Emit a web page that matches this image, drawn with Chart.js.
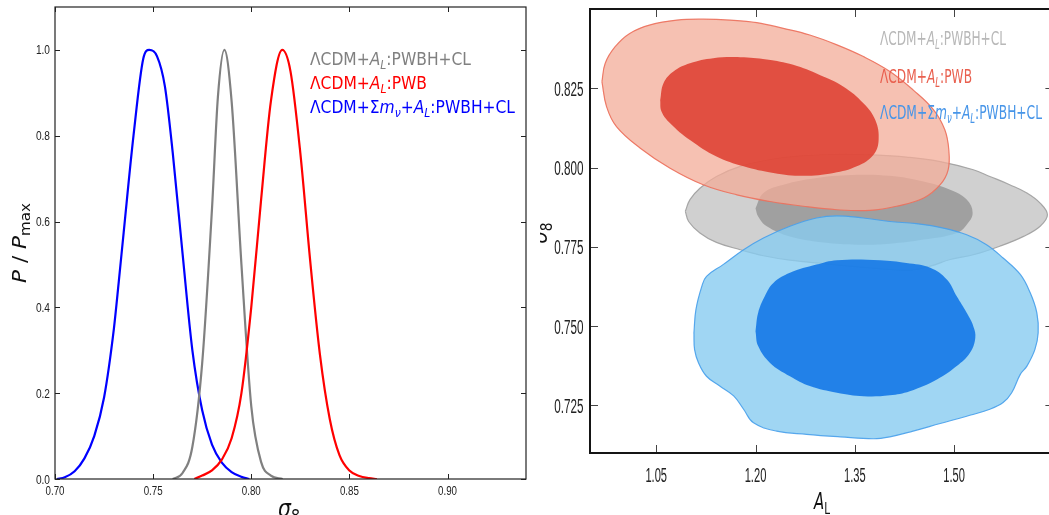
<!DOCTYPE html>
<html>
<head>
<meta charset="utf-8">
<script src="https://cdn.jsdelivr.net/npm/chart.js@4.4.0/dist/chart.umd.min.js"></script>
<style>
  html, body { margin: 0; padding: 0; background: #fff; overflow: hidden; width: 1049px; height: 515px; }
  #left { position: absolute; left: 0; top: 0; }
  #right { position: absolute; left: 540px; top: 0; }
</style>
</head>
<body>
<canvas id="left" width="540" height="515"></canvas>
<canvas id="right" width="520" height="515"></canvas>
<script>
// ---- left panel: 1D marginals P/Pmax vs sigma8 ----
const blueS8 = [0.701, 0.705, 0.710, 0.715, 0.720, 0.725, 0.730, 0.7325, 0.735, 0.740, 0.745, 0.748, 0.752, 0.756, 0.760, 0.765, 0.770, 0.775, 0.780, 0.785, 0.790, 0.795, 0.799];
const blueP = [0, 0.004, 0.018, 0.048, 0.10, 0.19, 0.35, 0.46, 0.575, 0.80, 0.98, 1.0, 0.985, 0.915, 0.76, 0.525, 0.30, 0.16, 0.08, 0.038, 0.016, 0.005, 0];
const grayS8 = [0.760, 0.765, 0.770, 0.775, 0.780, 0.783, 0.7863, 0.790, 0.795, 0.800, 0.805, 0.810, 0.816];
const grayP = [0, 0.014, 0.075, 0.27, 0.63, 0.89, 1.0, 0.88, 0.5, 0.17, 0.04, 0.008, 0];
const redS8 = [0.771, 0.775, 0.780, 0.785, 0.790, 0.795, 0.800, 0.805, 0.810, 0.8158, 0.820, 0.825, 0.830, 0.835, 0.840, 0.845, 0.850, 0.855, 0.860, 0.864];
const redP = [0, 0.008, 0.02, 0.045, 0.095, 0.2, 0.4, 0.65, 0.88, 1.0, 0.95, 0.76, 0.51, 0.29, 0.14, 0.055, 0.02, 0.007, 0.002, 0];

const s8Ticks = [0.70, 0.75, 0.80, 0.85, 0.90];
const s8TickLabels = ['0.70', '0.75', '0.80', '0.85', '0.90'];
const pTicks = [0, 0.2, 0.4, 0.6, 0.8, 1.0];
const pTickLabels = ['0.0', '0.2', '0.4', '0.6', '0.8', '1.0'];

// ---- right panel: 2D contours sigma8 vs A_L (68% inner / 95% outer) ----
const grayOutAL = [1.094, 1.101, 1.116, 1.141, 1.177, 1.227, 1.277, 1.328, 1.378, 1.428, 1.479, 1.529, 1.554, 1.584, 1.610, 1.630, 1.641, 1.630, 1.605, 1.569, 1.529, 1.494, 1.464, 1.433, 1.393, 1.353, 1.303, 1.252, 1.212, 1.177, 1.141, 1.116, 1.099];
const grayOutS8 = [0.7862, 0.7899, 0.7935, 0.7972, 0.8004, 0.8027, 0.8038, 0.8042, 0.8040, 0.8033, 0.8019, 0.7993, 0.7972, 0.7946, 0.7920, 0.7888, 0.7851, 0.7815, 0.7783, 0.7752, 0.7725, 0.7710, 0.7689, 0.7676, 0.7680, 0.7687, 0.7697, 0.7708, 0.7722, 0.7741, 0.7764, 0.7794, 0.7830];
const grayInAL = [1.200, 1.212, 1.242, 1.292, 1.353, 1.403, 1.454, 1.494, 1.519, 1.528, 1.519, 1.504, 1.454, 1.403, 1.353, 1.303, 1.252, 1.217, 1.204];
const grayInS8 = [0.7872, 0.7920, 0.7946, 0.7967, 0.7977, 0.7974, 0.7956, 0.7930, 0.7899, 0.7857, 0.7820, 0.7794, 0.7773, 0.7760, 0.7757, 0.7764, 0.7783, 0.7815, 0.7846];

const redOutAL = [0.968, 0.973, 0.988, 1.010, 1.041, 1.081, 1.121, 1.162, 1.202, 1.242, 1.282, 1.323, 1.363, 1.403, 1.438, 1.469, 1.486, 1.492, 1.491, 1.479, 1.454, 1.413, 1.373, 1.323, 1.272, 1.222, 1.172, 1.121, 1.071, 1.026, 0.990, 0.975];
const redOutS8 = [0.8271, 0.8329, 0.8381, 0.8423, 0.8450, 0.8465, 0.8468, 0.8465, 0.8457, 0.8439, 0.8418, 0.8387, 0.8350, 0.8303, 0.8245, 0.8182, 0.8119, 0.8056, 0.7993, 0.7946, 0.7904, 0.7878, 0.7865, 0.7867, 0.7878, 0.7893, 0.7914, 0.7946, 0.7998, 0.8061, 0.8129, 0.8192];
const redInAL = [1.056, 1.061, 1.076, 1.101, 1.136, 1.177, 1.217, 1.257, 1.297, 1.333, 1.363, 1.381, 1.386, 1.378, 1.353, 1.318, 1.272, 1.227, 1.182, 1.141, 1.101, 1.071, 1.058];
const redInS8 = [0.8213, 0.8266, 0.8303, 0.8329, 0.8345, 0.8348, 0.8341, 0.8324, 0.8292, 0.8255, 0.8203, 0.8150, 0.8087, 0.8040, 0.8004, 0.7983, 0.7974, 0.7983, 0.8004, 0.8035, 0.8087, 0.8140, 0.8177];

const blueOutAL = [1.107, 1.110, 1.119, 1.126, 1.151, 1.182, 1.212, 1.252, 1.292, 1.323, 1.363, 1.403, 1.443, 1.484, 1.519, 1.549, 1.574, 1.600, 1.615, 1.625, 1.627, 1.622, 1.610, 1.600, 1.587, 1.574, 1.554, 1.519, 1.479, 1.438, 1.403, 1.378, 1.328, 1.277, 1.232, 1.197, 1.182, 1.167, 1.146, 1.126, 1.114, 1.108];
const blueOutS8 = [0.7479, 0.7552, 0.7626, 0.7657, 0.7694, 0.7741, 0.7778, 0.7815, 0.7841, 0.7848, 0.7841, 0.7830, 0.7823, 0.7809, 0.7788, 0.7757, 0.7715, 0.7663, 0.7605, 0.7542, 0.7479, 0.7426, 0.7374, 0.7348, 0.7290, 0.7259, 0.7238, 0.7216, 0.7193, 0.7169, 0.7151, 0.7145, 0.7151, 0.7159, 0.7169, 0.7195, 0.7238, 0.7280, 0.7311, 0.7342, 0.7384, 0.7426];
const blueInAL = [1.200, 1.204, 1.214, 1.227, 1.252, 1.292, 1.323, 1.388, 1.428, 1.464, 1.489, 1.504, 1.519, 1.529, 1.532, 1.524, 1.504, 1.474, 1.433, 1.403, 1.363, 1.323, 1.282, 1.252, 1.222, 1.204];
const blueInS8 = [0.7484, 0.7542, 0.7594, 0.7636, 0.7668, 0.7694, 0.7708, 0.7708, 0.7699, 0.7684, 0.7647, 0.7594, 0.7542, 0.7500, 0.7463, 0.7416, 0.7374, 0.7332, 0.7295, 0.7282, 0.7279, 0.7290, 0.7311, 0.7342, 0.7384, 0.7437];

const alTicks = [1.05, 1.20, 1.35, 1.50];
const alTickLabels = ['1.05', '1.20', '1.35', '1.50'];
const s8Ticks2 = [0.725, 0.750, 0.775, 0.800, 0.825];
const s8TickLabels2 = ['0.725', '0.750', '0.775', '0.800', '0.825'];

// legend labels, split into plain / italic / subscript pieces
const labelGray = [{ t: 'ΛCDM+' }, { t: 'A', it: 1 }, { t: 'L', it: 1, sub: 1 }, { t: ':PWBH+CL' }];
const labelRed = [{ t: 'ΛCDM+' }, { t: 'A', it: 1 }, { t: 'L', it: 1, sub: 1 }, { t: ':PWB' }];
const labelBlue = [{ t: 'ΛCDM+Σ' }, { t: 'm', it: 1 }, { t: 'ν', it: 1, sub: 1 }, { t: '+' }, { t: 'A', it: 1 }, { t: 'L', it: 1, sub: 1 }, { t: ':PWBH+CL' }];

function pts(xs, ys) {
  return xs.map(function (x, i) { return { x: x, y: ys[i] }; });
}
function loop(xs, ys) {
  const p = pts(xs, ys);
  p.push({ x: xs[0], y: ys[0] });
  return p;
}

// draws text made of pieces, squeezed horizontally to a given width
function drawRich(ctx, segs, o) {
  const parts = segs.map(function (s) {
    const sz = s.sub ? o.size * 0.7 : o.size;
    const font = (s.it ? 'italic ' : '') + sz + 'px ' + o.family;
    ctx.font = font;
    return { t: s.t, font: font, w: ctx.measureText(s.t).width, dy: s.sub ? o.size * 0.22 : 0 };
  });
  const natural = parts.reduce(function (a, p) { return a + p.w; }, 0);
  const k = o.width ? o.width / natural : (o.k || 1);
  const total = natural * k;
  let start = 0;
  if (o.align === 'center') start = -total / 2;
  if (o.align === 'right') start = -total;
  ctx.save();
  ctx.translate(o.x, o.y);
  if (o.rotate) ctx.rotate(o.rotate);
  ctx.translate(start, 0);
  ctx.scale(k, 1);
  ctx.fillStyle = o.color;
  ctx.textBaseline = o.baseline || 'alphabetic';
  ctx.textAlign = 'left';
  let cx = 0;
  parts.forEach(function (p) {
    ctx.font = p.font;
    ctx.fillText(p.t, cx, p.dy);
    cx += p.w;
  });
  ctx.restore();
}

const TICKFONT = '"Liberation Sans", Arial, sans-serif';
const TEXTFONT = '"DejaVu Sans", sans-serif';

function hiddenAxis(min, max, ticks, fit) {
  return {
    type: 'linear', min: min, max: max,
    grid: { display: false }, border: { display: false }, ticks: { display: false },
    afterBuildTicks: function (s) { s.ticks = ticks.map(function (v) { return { value: v }; }); },
    afterFit: fit
  };
}

// ---------- left chart ----------
const leftDecor = {
  id: 'leftDecor',
  afterDraw: function (chart) {
    const ctx = chart.ctx, a = chart.chartArea;
    const sx = chart.scales.x, sy = chart.scales.y;
    ctx.save();
    ctx.strokeStyle = '#222';
    ctx.lineWidth = 1.2;
    ctx.strokeRect(a.left, a.top, a.right - a.left, a.bottom - a.top);
    ctx.lineWidth = 1;
    ctx.beginPath();
    sx.ticks.forEach(function (t) {
      const px = Math.round(sx.getPixelForValue(t.value)) + 0.5;
      ctx.moveTo(px, a.bottom); ctx.lineTo(px, a.bottom - 5);
      ctx.moveTo(px, a.top); ctx.lineTo(px, a.top + 5);
    });
    sy.ticks.forEach(function (t) {
      const py = Math.round(sy.getPixelForValue(t.value)) + 0.5;
      ctx.moveTo(a.left, py); ctx.lineTo(a.left + 5, py);
      ctx.moveTo(a.right, py); ctx.lineTo(a.right - 5, py);
    });
    ctx.stroke();
    ctx.restore();

    sx.ticks.forEach(function (t, i) {
      drawRich(ctx, [{ t: s8TickLabels[i] }], { x: sx.getPixelForValue(t.value), y: 495, size: 13, family: TICKFONT, color: '#222', k: 0.75, align: 'center' });
    });
    sy.ticks.forEach(function (t, i) {
      drawRich(ctx, [{ t: pTickLabels[i] }], { x: 50, y: sy.getPixelForValue(t.value) + 4.5, size: 13.5, family: TICKFONT, color: '#222', k: 0.75, align: 'right' });
    });

    drawRich(ctx, [{ t: 'P', it: 1 }, { t: ' / ' }, { t: 'P', it: 1 }, { t: 'max', sub: 1 }], { x: 26, y: 243, size: 20, family: TEXTFONT, color: '#111', width: 80, align: 'center', rotate: -Math.PI / 2 });
    drawRich(ctx, [{ t: 'σ', it: 1 }, { t: '8', sub: 1 }], { x: 289, y: 517, size: 24, family: TEXTFONT, color: '#111', k: 0.85, align: 'center' });

    drawRich(ctx, labelGray, { x: 310, y: 65, size: 18, family: TEXTFONT, color: '#808080', width: 161 });
    drawRich(ctx, labelRed, { x: 310, y: 89, size: 18, family: TEXTFONT, color: '#ff0000', width: 117 });
    drawRich(ctx, labelBlue, { x: 310, y: 113, size: 18, family: TEXTFONT, color: '#0000ff', width: 205 });
  }
};

function curve(xs, ys, color, order) {
  return {
    data: pts(xs, ys), showLine: true, borderColor: color, borderWidth: 2.2,
    pointRadius: 0, fill: false, cubicInterpolationMode: 'monotone', order: order
  };
}

new Chart(document.getElementById('left'), {
  type: 'scatter',
  data: {
    datasets: [
      curve(blueS8, blueP, '#0000ff', 3),
      curve(grayS8, grayP, '#808080', 2),
      curve(redS8, redP, '#ff0000', 1)
    ]
  },
  options: {
    responsive: false, animation: false, devicePixelRatio: 1, events: [],
    layout: { padding: { left: 0, right: 14, top: 7, bottom: 0 } },
    plugins: { legend: { display: false }, tooltip: { enabled: false } },
    scales: {
      x: hiddenAxis(0.70, 0.94, s8Ticks, function (s) { s.height = 36; }),
      y: hiddenAxis(0, 1.1, pTicks, function (s) { s.width = 55; })
    }
  },
  plugins: [leftDecor]
});

// ---------- right chart ----------
const rightDecor = {
  id: 'rightDecor',
  afterDraw: function (chart) {
    const ctx = chart.ctx, a = chart.chartArea;
    const sx = chart.scales.x, sy = chart.scales.y;
    ctx.save();
    ctx.strokeStyle = '#444';
    ctx.lineWidth = 1;
    ctx.beginPath();
    sx.ticks.forEach(function (t) {
      const px = Math.round(sx.getPixelForValue(t.value)) + 0.5;
      ctx.moveTo(px, a.bottom); ctx.lineTo(px, a.bottom - 8);
      ctx.moveTo(px, a.top); ctx.lineTo(px, a.top + 8);
    });
    sy.ticks.forEach(function (t) {
      const py = Math.round(sy.getPixelForValue(t.value)) + 0.5;
      ctx.moveTo(a.left, py); ctx.lineTo(a.left + 8, py);
      ctx.moveTo(a.right, py); ctx.lineTo(a.right - 8, py);
    });
    ctx.stroke();
    ctx.strokeStyle = '#151515';
    ctx.lineWidth = 2;
    ctx.strokeRect(a.left, a.top, a.right - a.left, a.bottom - a.top);
    ctx.restore();

    sx.ticks.forEach(function (t, i) {
      drawRich(ctx, [{ t: alTickLabels[i] }], { x: sx.getPixelForValue(t.value), y: 482, size: 19.5, family: TICKFONT, color: '#222', k: 0.57, align: 'center' });
    });
    sy.ticks.forEach(function (t, i) {
      drawRich(ctx, [{ t: s8TickLabels2[i] }], { x: 43.5, y: sy.getPixelForValue(t.value) + 7.5, size: 20.5, family: TICKFONT, color: '#222', k: 0.57, align: 'right' });
    });

    drawRich(ctx, [{ t: 'A', it: 1 }, { t: 'L', sub: 1 }], { x: 282, y: 509, size: 23, family: TEXTFONT, color: '#111', width: 16, align: 'center' });
    drawRich(ctx, [{ t: 'σ', it: 1 }, { t: '8', sub: 1 }], { x: 7, y: 233, size: 22, family: TEXTFONT, color: '#111', k: 0.9, align: 'center', rotate: -Math.PI / 2 });

    drawRich(ctx, labelGray, { x: 340, y: 45, size: 19, family: TEXTFONT, color: '#b8b8b8', width: 126 });
    drawRich(ctx, labelRed, { x: 340, y: 83, size: 19, family: TEXTFONT, color: '#e9604f', width: 92 });
    drawRich(ctx, labelBlue, { x: 340, y: 119, size: 19, family: TEXTFONT, color: '#4795e8', width: 162 });
  }
};

function region(xs, ys, fillColor, lineColor, order) {
  return {
    data: loop(xs, ys), showLine: true, fill: 'shape', backgroundColor: fillColor,
    borderColor: lineColor || 'rgba(0,0,0,0)', borderWidth: lineColor ? 1.2 : 0,
    pointRadius: 0, tension: 0.4, order: order
  };
}

new Chart(document.getElementById('right'), {
  type: 'scatter',
  data: {
    datasets: [
      region(grayOutAL, grayOutS8, 'rgb(208,208,208)', 'rgba(160,160,160,0.9)', 6),
      region(grayInAL, grayInS8, 'rgb(160,160,160)', null, 5),
      region(redOutAL, redOutS8, 'rgba(243,172,152,0.75)', 'rgba(236,112,92,0.9)', 4),
      region(redInAL, redInS8, 'rgba(222,60,46,0.85)', null, 3),
      region(blueOutAL, blueOutS8, 'rgba(136,204,240,0.8)', 'rgba(72,160,235,0.9)', 2),
      region(blueInAL, blueInS8, 'rgba(13,115,230,0.85)', null, 1)
    ]
  },
  options: {
    responsive: false, animation: false, devicePixelRatio: 1, events: [],
    layout: { padding: { left: 0, right: 6.6, top: 9, bottom: 0 } },
    plugins: { legend: { display: false }, tooltip: { enabled: false } },
    scales: {
      x: hiddenAxis(0.95, 1.65, alTicks, function (s) { s.height = 62; }),
      y: hiddenAxis(0.71, 0.85, s8Ticks2, function (s) { s.width = 50; })
    }
  },
  plugins: [rightDecor]
});
</script>
</body>
</html>
